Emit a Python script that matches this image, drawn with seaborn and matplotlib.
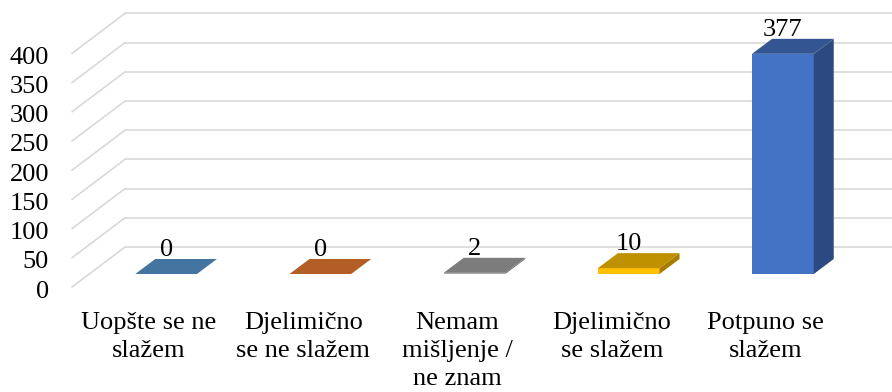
import matplotlib
matplotlib.use('Agg')
import matplotlib.pyplot as plt
import seaborn as sns
import pandas as pd
from matplotlib.transforms import Affine2D, IdentityTransform
from matplotlib.patches import Polygon
from matplotlib.lines import Line2D

categories = ["Uopšte se ne\nslažem", "Djelimično\nse ne slažem",
              "Nemam\nmišljenje /\nne znam", "Djelimično\nse slažem",
              "Potpuno se\nslažem"]
values = [0, 0, 2, 10, 377]
colors = ['#5B9BD5', '#ED7D31', '#A5A5A5', '#FFC000', '#4472C4']
y_ticks = [0, 50, 100, 150, 200, 250, 300, 350, 400]

sns.set_theme(style='white')
plt.rcParams['font.family'] = ['Liberation Serif', 'DejaVu Serif']

W, H = 892, 392
fig = plt.figure(figsize=(W / 100, H / 100), dpi=100)
fig.patch.set_facecolor('white')
ax = fig.add_axes([89 / W, (H - 274) / H, 771 / W, 262.8 / H])

df = pd.DataFrame({'cat': categories, 'val': values})
sns.barplot(data=df, x='cat', y='val', hue='cat', palette=colors, width=0.4,
            saturation=1, legend=False, ax=ax, linewidth=0, zorder=3)
ax.set_xlim(-0.5, 4.5)
ax.set_ylim(0, 450)
ax.set_xticks([])
ax.set_yticks([])
ax.set_xlabel('')
ax.set_ylabel('')
for s in ax.spines.values():
    s.set_visible(False)
ax.patch.set_alpha(0)

# depth offsets (pixels)
DX, DY = 20, 15      # bar depth
WX, WY = 36, 27      # back wall relative to bar front plane
FX, FY = -17, -13    # front plane relative to bar front plane
FS = 19
GRID = '#D9D9D9'


def off(dx, dy):
    return ax.transData + Affine2D().translate(dx, dy)


def disp(x, y, dx=0, dy=0):
    px, py = ax.transData.transform((x, y))
    return (px + dx, py + dy)


# gridlines: back wall + side wall
x0, x1 = ax.get_xlim()
for v in y_ticks:
    a = disp(x0, v, WX, WY)
    b = disp(x1, v, WX, WY)
    c = disp(x0, v, FX, FY)
    for p, q in ((a, b), (c, a)):
        ln = Line2D([p[0], q[0]], [p[1], q[1]], color=GRID, lw=1.2,
                    transform=IdentityTransform(), zorder=1)
        ax.add_artist(ln)
        ln.set_clip_on(False)
    ax.text(x0, v, str(v), transform=off(FX - 23, FY - 2), ha='right',
            va='center_baseline', fontsize=FS, color='#000000')


def shade(hexcol, f):
    r, g, b = matplotlib.colors.to_rgb(hexcol)
    return (r * f, g * f, b * f)


bars = sorted(ax.patches, key=lambda p: p.get_x())
for p, v, col, cat in zip(bars, values, colors, categories):
    bx0 = p.get_x()
    bx1 = bx0 + p.get_width()
    h = p.get_height()
    top = [disp(bx0, h), disp(bx1, h), disp(bx1, h, DX, DY), disp(bx0, h, DX, DY)]
    side = [disp(bx1, 0), disp(bx1, h), disp(bx1, h, DX, DY), disp(bx1, 0, DX, DY)]
    ax.add_patch(Polygon(side, closed=True, facecolor=shade(col, 0.65),
                         edgecolor='none', transform=IdentityTransform(),
                         zorder=3, clip_on=False))
    ax.add_patch(Polygon(top, closed=True, facecolor=shade(col, 0.75),
                         edgecolor='none', transform=IdentityTransform(),
                         zorder=4, clip_on=False))
    xc = bx0 + p.get_width() / 2
    ax.text(xc, h, str(v), transform=off(0, DY + 3), ha='center',
            va='baseline', fontsize=FS, color='#000000', zorder=5)
    ax.text(xc, 0, cat, transform=off(FX, -38), ha='center', va='top',
            fontsize=FS, linespacing=1.35, color='#000000',
            multialignment='center')

fig.savefig('out.png', dpi=100, facecolor='white')
